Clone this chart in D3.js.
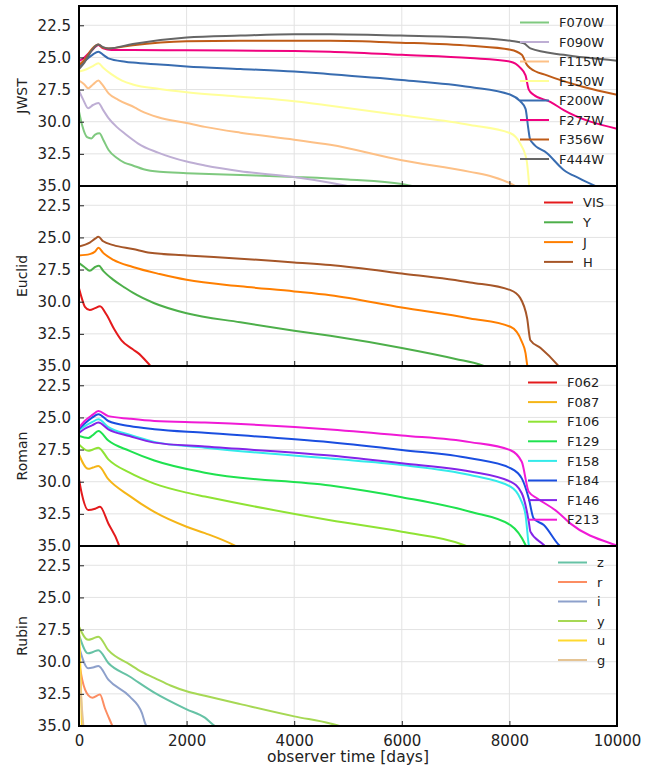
<!DOCTYPE html>
<html><head><meta charset="utf-8">
<script src="https://cdn.jsdelivr.net/npm/d3@7"></script>
<style>
body{margin:0;background:#fff}
text{font-family:"DejaVu Sans",sans-serif;fill:#222}
</style>
</head><body>
<svg id="chart" width="662" height="771"></svg>
<script>
// ---------- data ----------
const xTicks = [0, 2000, 4000, 6000, 8000, 10000];
const yTicks = [22.5, 25, 27.5, 30, 32.5, 35];
const panelNames = ["JWST", "Euclid", "Roman", "Rubin"];

const jwstBands = ["F070W","F090W","F115W","F150W","F200W","F277W","F356W","F444W"];
const jwstColors = ["#7fc97f","#beaed4","#fdc086","#ffff99","#386cb0","#f0027f","#bf5b17","#666666"];
const jwstF070W = [[0,29.2],[60,30.3],[150,31.2],[230,31.3],[300,31.0],[380,30.9],[450,31.4],[550,32.2],[700,32.8],[850,33.2],[1000,33.4],[1200,33.7],[1500,33.9],[2000,34.0],[3000,34.15],[4000,34.3],[5000,34.5],[6000,34.85],[6300,35.1]];
const jwstF090W = [[0,27.6],[80,28.3],[170,28.95],[260,28.7],[360,28.55],[450,29.1],[545,29.7],[700,30.4],[860,30.95],[1000,31.4],[1100,31.7],[1470,32.4],[2000,33.1],[2340,33.4],[3000,33.85],[4000,34.3],[4670,34.75],[5100,35.1]];
const jwstF115W = [[0,26.8],[100,27.1],[170,27.4],[260,27.1],[360,26.8],[430,27.1],[550,27.8],[730,28.3],[1040,28.9],[1150,29.15],[1470,29.65],[2000,30.1],[2340,30.4],[3000,30.85],[4000,31.4],[4670,31.8],[6000,33.0],[7270,33.9],[7700,34.3],[8020,34.8],[8150,35.1]];
const jwstF150W = [[0,26.1],[150,25.9],[250,25.7],[360,25.45],[450,25.8],[600,26.3],[800,26.8],[1000,27.1],[1500,27.45],[2000,27.7],[3000,28.05],[4000,28.4],[4670,28.75],[6000,29.5],[7270,30.25],[8020,30.9],[8200,31.7],[8320,33.0],[8370,35.1]];
const jwstF200W = [[0,25.7],[100,25.3],[250,24.8],[360,24.55],[450,24.8],[545,25.07],[860,25.33],[1000,25.4],[1500,25.55],[2000,25.7],[3000,25.9],[4000,26.1],[4670,26.3],[6000,26.75],[7270,27.3],[8020,27.9],[8200,28.4],[8300,29.0],[8350,30.5],[8380,31.3],[8420,31.6],[8700,32.45],[9010,33.75],[9300,34.4],[9650,35.1]];
const jwstF277W = [[0,25.3],[100,25.0],[250,24.4],[360,24.03],[450,24.3],[600,24.42],[1000,24.42],[2000,24.45],[4000,24.5],[4670,24.55],[6000,24.8],[7270,25.05],[8020,25.33],[8200,25.8],[8300,26.4],[8360,27.5],[8450,27.9],[8760,28.45],[9010,29.1],[10000,30.55]];
const jwstF356W = [[0,25.6],[100,25.2],[250,24.3],[360,24.0],[450,24.25],[550,24.3],[1000,24.05],[2000,23.75],[3000,23.7],[4670,23.7],[5970,23.85],[7270,24.1],[8020,24.4],[8230,24.8],[8330,25.6],[8390,25.85],[8700,26.4],[9380,27.3],[10000,27.9]];
const jwstF444W = [[0,25.9],[100,25.4],[250,24.4],[360,24.0],[450,24.2],[550,24.3],[1000,23.95],[2000,23.45],[3000,23.3],[4000,23.2],[4670,23.2],[5970,23.3],[7270,23.45],[8020,23.7],[8270,23.9],[8390,24.3],[9010,24.8],[10000,25.25]];

const euclidBands = ["VIS","Y","J","H"];
const euclidColors = ["#e41a1c","#4daf4a","#ff7f00","#a65628"];
const euclidVIS = [[0,28.95],[50,29.7],[110,30.4],[200,30.65],[300,30.5],[390,30.35],[510,31.0],[650,32.1],[790,33.0],[1000,33.7],[1100,34.0],[1320,34.95],[1400,35.3]];
const euclidY = [[0,27.0],[100,27.3],[200,27.6],[300,27.3],[370,27.2],[450,27.6],[640,28.3],[850,28.9],[1000,29.3],[1390,30.1],[2000,30.9],[3000,31.6],[4000,32.25],[4670,32.65],[6000,33.6],[7000,34.45],[7500,34.95],[7600,35.1]];
const euclidJ = [[0,26.4],[200,26.3],[300,26.1],[360,25.8],[450,26.2],[640,26.75],[1000,27.3],[1500,27.85],[2000,28.3],[3000,28.8],[4000,29.2],[4670,29.5],[6000,30.45],[7270,31.3],[8020,31.95],[8230,33.1],[8300,34.0],[8330,34.9],[8345,35.2]];
const euclidH = [[0,25.7],[200,25.4],[300,25.1],[360,24.95],[450,25.3],[640,25.6],[1000,25.9],[1320,26.2],[2000,26.4],[3000,26.65],[4000,26.95],[4670,27.15],[6000,27.8],[7270,28.5],[8020,29.1],[8200,29.7],[8330,31.3],[8390,33.0],[8580,33.6],[8890,34.9],[8950,35.2]];

const romanBands = ["F062","F087","F106","F129","F158","F184","F146","F213"];
const romanColors = ["#e31a1c","#f5b517","#8fe334","#1fe24f","#33eaea","#1a4ee0","#8424e8","#f01ad6"];
const romanF062 = [[0,29.8],[50,30.9],[170,32.2],[300,32.1],[390,31.95],[545,33.25],[730,34.8],[760,35.2]];
const romanF087 = [[0,27.87],[170,29.0],[260,28.9],[360,28.78],[545,29.8],[940,31.1],[1400,32.35],[2000,33.5],[2340,34.0],[2870,34.92],[2950,35.1]];
const romanF106 = [[0,27.1],[170,27.6],[260,27.5],[360,27.35],[545,28.26],[940,29.3],[1400,30.15],[2000,30.85],[2340,31.15],[4670,33.0],[6000,33.9],[7150,34.92],[7250,35.1]];
const romanF129 = [[0,26.45],[170,26.6],[250,26.4],[360,26.05],[545,26.8],[940,27.6],[1400,28.35],[2340,29.3],[4670,30.3],[6000,31.2],[7270,32.33],[8020,33.37],[8300,34.92],[8330,35.2]];
const romanF158 = [[0,26.0],[100,25.7],[250,25.35],[360,25.15],[545,25.75],[940,26.35],[1400,26.9],[2340,27.35],[4670,28.2],[6000,28.7],[7270,29.48],[8020,30.38],[8200,31.3],[8300,32.59],[8360,34.92],[8380,35.3]];
const romanF184 = [[0,25.9],[100,25.5],[250,25.0],[360,24.75],[545,25.28],[940,25.67],[1400,25.92],[2340,26.2],[4670,26.93],[6000,27.53],[7270,28.18],[8020,28.95],[8230,29.74],[8360,31.3],[8450,32.85],[8640,33.37],[8920,34.92],[9000,35.2]];
const romanF146 = [[0,26.2],[100,25.9],[250,25.6],[360,25.4],[545,25.92],[940,26.45],[1400,26.96],[2340,27.27],[4670,27.97],[6000,28.57],[7270,29.2],[8020,30.0],[8230,30.9],[8360,33.1],[8390,33.88],[8640,34.92],[8700,35.2]];
const romanF213 = [[0,25.8],[100,25.3],[250,24.8],[360,24.5],[545,24.9],[940,25.1],[1400,25.28],[2340,25.4],[4670,25.93],[6000,26.4],[7270,26.92],[8020,27.55],[8230,28.45],[8360,30.78],[8520,31.3],[8890,32.33],[9130,33.24],[9970,34.92],[10100,35.1]];

const rubinBands = ["z","r","i","y","u","g"];
const rubinColors = ["#66c2a5","#fc8d62","#8da0cb","#a6d854","#ffd92f","#e5c494"];
const rubinZ = [[0,27.9],[170,29.35],[260,29.25],[360,29.1],[545,30.1],[940,31.15],[1400,32.4],[2000,33.7],[2340,34.35],[2500,34.92],[2560,35.1]];
const rubinR = [[0,30.0],[60,31.4],[170,32.6],[250,32.8],[390,32.55],[480,33.6],[610,34.9],[640,35.2]];
const rubinI = [[0,28.83],[170,30.5],[260,30.45],[360,30.33],[545,31.4],[940,32.7],[1170,34.0],[1230,34.8],[1280,35.2]];
const rubinYb = [[0,27.27],[170,28.3],[260,28.2],[360,28.05],[545,29.1],[940,30.2],[1170,30.8],[1400,31.25],[1700,31.85],[2000,32.3],[2340,32.65],[3000,33.3],[4000,34.25],[4670,34.8],[4900,35.05]];
const rubinU = [[0,27.2],[30,31.0],[55,35.2]];
const rubinG = [[0,30.5],[50,33.4],[85,35.2]];

const panels = [
  {name: panelNames[0], bands: jwstBands, colors: jwstColors,
   series: [jwstF070W, jwstF090W, jwstF115W, jwstF150W, jwstF200W, jwstF277W, jwstF356W, jwstF444W],
   legX: 520, legStep: 19.5},
  {name: panelNames[1], bands: euclidBands, colors: euclidColors,
   series: [euclidVIS, euclidY, euclidJ, euclidH],
   legX: 544, legStep: 19.8},
  {name: panelNames[2], bands: romanBands, colors: romanColors,
   series: [romanF062, romanF087, romanF106, romanF129, romanF158, romanF184, romanF146, romanF213],
   legX: 528, legStep: 19.6},
  {name: panelNames[3], bands: rubinBands, colors: rubinColors,
   series: [rubinZ, rubinR, rubinI, rubinYb, rubinU, rubinG],
   legX: 558, legStep: 19.5}
];

// ---------- layout ----------
const left = 79, right = 617, panelH = 180, top0 = 6, legTop = 16.5;
const svg = d3.select("#chart");
const x = d3.scaleLinear().domain([0, 10000]).range([left, right]);

panels.forEach((p, i) => {
  const top = top0 + i * panelH;
  const y = d3.scaleLinear().domain([21, 35]).range([top, top + panelH]);
  const g = svg.append("g");

  // grid
  g.append("g").selectAll("line").data(xTicks.slice(1, -1)).join("line")
    .attr("x1", d => x(d)).attr("x2", d => x(d))
    .attr("y1", top).attr("y2", top + panelH)
    .attr("stroke", "#e3e3e3").attr("stroke-width", 1);
  g.append("g").selectAll("line").data(yTicks.slice(0, -1)).join("line")
    .attr("x1", left).attr("x2", right)
    .attr("y1", d => y(d)).attr("y2", d => y(d))
    .attr("stroke", "#e3e3e3").attr("stroke-width", 1);

  // clip
  const cid = "clip" + i;
  svg.append("defs").append("clipPath").attr("id", cid)
    .append("rect").attr("x", left).attr("y", top).attr("width", right - left).attr("height", panelH);

  const line = d3.line().x(d => x(d[0])).y(d => y(d[1])).curve(d3.curveMonotoneX);
  const lg = g.append("g").attr("clip-path", `url(#${cid})`);
  p.series.forEach((s, k) => {
    lg.append("path").datum(s).attr("d", line)
      .attr("fill", "none").attr("stroke", p.colors[k]).attr("stroke-width", 2)
      .attr("stroke-linejoin", "round");
  });

  // axes (inward ticks)
  const ya = d3.axisLeft(y).tickValues(yTicks).tickFormat(d3.format(".1f")).tickSizeInner(-5).tickSizeOuter(0).tickPadding(8);
  const yg = g.append("g").attr("transform", `translate(${left},0)`).call(ya);
  yg.select(".domain").remove();
  yg.selectAll(".tick line").attr("stroke", "#222");
  yg.selectAll("text").style("font-size", "15px").attr("fill", "#222");

  const xa = d3.axisBottom(x).tickValues(xTicks).tickSizeInner(-5).tickSizeOuter(0).tickPadding(9)
    .tickFormat(i === 3 ? d3.format("d") : "");
  const xg = g.append("g").attr("transform", `translate(0,${top + panelH})`).call(xa);
  xg.select(".domain").remove();
  xg.selectAll(".tick line").attr("stroke", "#222");
  xg.selectAll("text").style("font-size", "15px").attr("fill", "#222");

  // frame
  g.append("rect").attr("x", left).attr("y", top).attr("width", right - left).attr("height", panelH)
    .attr("fill", "none").attr("stroke", "#000").attr("stroke-width", 2);

  // y label
  g.append("text").attr("transform", `translate(27,${top + panelH / 2}) rotate(-90)`)
    .attr("text-anchor", "middle").style("font-size", "14px").text(p.name);

  // legend
  const leg = g.append("g");
  p.bands.forEach((b, k) => {
    const ly = top + legTop + k * p.legStep;
    leg.append("line").attr("x1", p.legX).attr("x2", p.legX + 29).attr("y1", ly).attr("y2", ly)
      .attr("stroke", p.colors[k]).attr("stroke-width", 2);
    leg.append("text").attr("x", p.legX + 39).attr("y", ly).attr("dy", "0.36em")
      .style("font-size", "13px").text(b);
  });
});

svg.append("text").attr("x", (left + right) / 2).attr("y", 762)
  .attr("text-anchor", "middle").style("font-size", "15.5px").text("observer time [days]");
</script>
</body></html>
